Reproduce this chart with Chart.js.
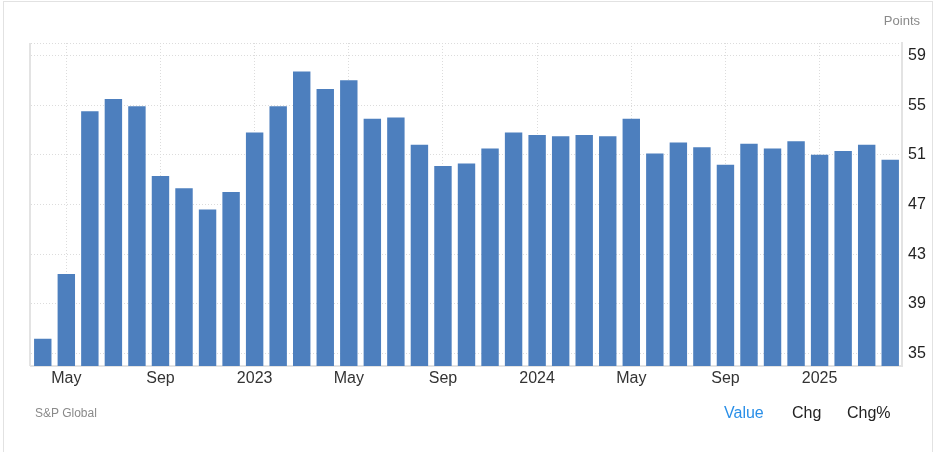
<!DOCTYPE html>
<html>
<head>
<meta charset="utf-8">
<script src="https://cdn.jsdelivr.net/npm/chart.js@4.4.1/dist/chart.umd.min.js"></script>
<style>
  html, body { margin: 0; padding: 0; background: #fff; }
  body { width: 936px; height: 452px; position: relative; overflow: hidden;
         font-family: "Liberation Sans", Arial, Helvetica, sans-serif; }
  #frame { position: absolute; left: 3px; top: 1px; width: 930px; height: 470px;
           border: 1px solid #e2e2e2; box-sizing: border-box; }
  #wrap { position: absolute; left: 0; top: 0; width: 936px; height: 452px; }
  .txt { position: absolute; white-space: nowrap; }
  #unit { right: 16px; top: 13px; font-size: 13px; color: #8a8a8a; }
  #source { left: 35px; top: 406px; font-size: 12px; color: #8a8a8a; }
  #value { left: 724px; top: 404px; font-size: 16px; color: #2a8fe8; }
  #chg { left: 792px; top: 404px; font-size: 16px; color: #222; }
  #chgp { left: 847px; top: 404px; font-size: 16px; color: #222; }
</style>
</head>
<body>
<div id="frame"></div>
<div id="wrap"><canvas id="grafico1" width="936" height="452"></canvas></div>
<div class="txt" id="unit">Points</div>
<div class="txt" id="source">S&amp;P Global</div>
<div class="txt" id="value">Value</div>
<div class="txt" id="chg">Chg</div>
<div class="txt" id="chgp">Chg%</div>
<script>
// Meses (abr 2022 - abr 2025)
const months = [
  'Apr 2022', 'May 2022', 'Jun 2022', 'Jul 2022', 'Aug 2022', 'Sep 2022', 'Oct 2022', 'Nov 2022', 'Dec 2022',
  'Jan 2023', 'Feb 2023', 'Mar 2023', 'Apr 2023', 'May 2023', 'Jun 2023', 'Jul 2023', 'Aug 2023', 'Sep 2023',
  'Oct 2023', 'Nov 2023', 'Dec 2023', 'Jan 2024', 'Feb 2024', 'Mar 2024', 'Apr 2024', 'May 2024', 'Jun 2024',
  'Jul 2024', 'Aug 2024', 'Sep 2024', 'Oct 2024', 'Nov 2024', 'Dec 2024', 'Jan 2025', 'Feb 2025', 'Mar 2025',
  'Apr 2025'
];

// Etiquetas visibles del eje X
const tickLabels = [
  '', 'May', '', '', '', 'Sep', '', '', '',
  '2023', '', '', '', 'May', '', '', '', 'Sep',
  '', '', '', '2024', '', '', '', 'May', '',
  '', '', 'Sep', '', '', '', '2025', '', '',
  ''
];

// Valores (puntos)
const values = [
  36.2, 41.4, 54.5, 55.5, 54.9, 49.3, 48.3, 46.6, 48.0,
  52.8, 54.9, 57.7, 56.3, 57.0, 53.9, 54.0, 51.8, 50.1,
  50.3, 51.5, 52.8, 52.6, 52.5, 52.6, 52.5, 53.9, 51.1,
  52.0, 51.6, 50.2, 51.9, 51.5, 52.1, 51.0, 51.3, 51.8,
  50.6
];

const yTicks = [35, 39, 43, 47, 51, 55, 59];
const yMin = 34;
const yMax = 60;

const gridColor = '#dcdcdc';
const axisColor = '#e3e3e3';

// Línea izquierda del área del gráfico
const leftBorder = {
  id: 'leftBorder',
  afterDraw(chart) {
    const a = chart.chartArea;
    const c = chart.ctx;
    c.save();
    c.strokeStyle = axisColor;
    c.lineWidth = 2;
    c.beginPath();
    c.moveTo(a.left - 1, a.top);
    c.lineTo(a.left - 1, a.bottom);
    c.stroke();
    c.restore();
  }
};

const ctx = document.getElementById('grafico1').getContext('2d');
new Chart(ctx, {
  type: 'bar',
  data: {
    labels: months,
    datasets: [{
      label: 'Points',
      data: values,
      backgroundColor: '#4d7fbe',
      borderWidth: 0,
      barPercentage: 0.74,
      categoryPercentage: 1.0
    }]
  },
  options: {
    responsive: false,
    animation: false,
    events: [],
    layout: { padding: { left: 31, top: 43, right: 0, bottom: 56 } },
    plugins: { legend: { display: false }, tooltip: { enabled: false } },
    scales: {
      x: {
        offset: true,
        grid: {
          offset: false,
          drawTicks: false,
          color: (c) => (c.index !== undefined && tickLabels[c.index]) ? gridColor : 'rgba(0,0,0,0)'
        },
        border: { display: true, color: axisColor, width: 2, dash: [1, 2] },
        ticks: {
          autoSkip: false,
          maxRotation: 0,
          padding: 3,
          color: '#333',
          font: { family: '"Liberation Sans", Arial, sans-serif', size: 16 },
          callback: (v, i) => tickLabels[i]
        },
        afterFit: (s) => { s.height = 30; }
      },
      y: {
        position: 'right',
        min: yMin,
        max: yMax,
        afterBuildTicks: (s) => { s.ticks = yTicks.concat([yMax]).map(v => ({ value: v })); },
        grid: { drawTicks: false, color: gridColor },
        border: { display: true, color: axisColor, width: 2, dash: [1, 2] },
        ticks: {
          padding: 6,
          color: '#222',
          font: { family: '"Liberation Sans", Arial, sans-serif', size: 16 },
          callback: (v) => (yTicks.includes(v) ? String(v) : '')
        },
        afterFit: (s) => { s.width = 34; }
      }
    }
  },
  plugins: [leftBorder]
});
</script>
</body>
</html>
